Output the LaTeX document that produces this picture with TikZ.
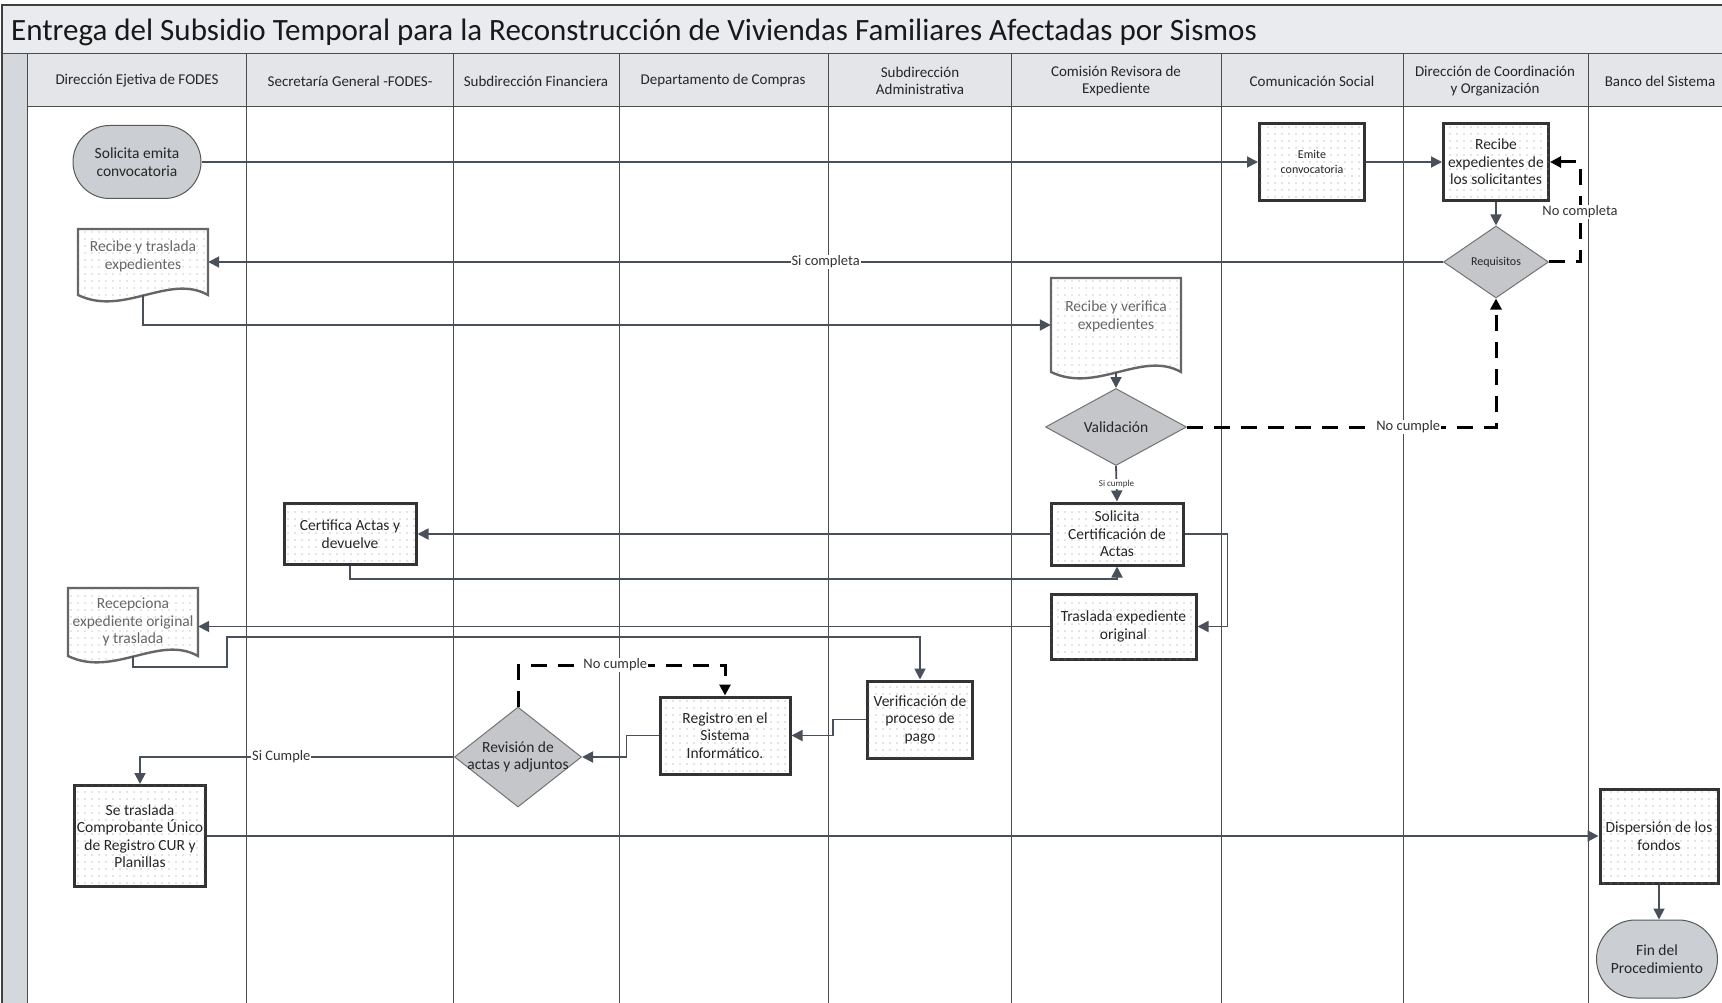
\documentclass[tikz,border=0pt]{standalone}
\usepackage{fontspec}
\setmainfont{Carlito}
\usetikzlibrary{arrows.meta,shapes.geometric,shapes.misc,patterns}
\pgfdeclarepatternformonly{sparsedots}{\pgfpoint{0pt}{0pt}}{\pgfpoint{2pt}{2pt}}{\pgfpoint{7pt}{7pt}}{\pgfpathcircle{\pgfpoint{1pt}{1pt}}{0.7pt}\pgfusepath{fill}}
\definecolor{titlebg}{HTML}{E9EBEE}
\definecolor{headbg}{HTML}{E3E5E8}
\definecolor{stripbg}{HTML}{D4D7DC}
\definecolor{conncol}{HTML}{4A505A}
\definecolor{termfill}{HTML}{CBCED2}
\definecolor{diafill}{HTML}{C4C6C9}
\newcommand\docnode[6]{%
  \path[docshape] ({#2-#4/2},{#3-#5/2}) -- ({#2+#4/2},{#3-#5/2}) -- ({#2+#4/2},{#3+#5/2})
    .. controls ({#2+#4/2-0.3*#4},{#3+#5/2-22}) and ({#2-#4/2+0.35*#4},{#3+#5/2+22}) .. ({#2-#4/2},{#3+#5/2}) -- cycle;
  \node[docb, minimum width=#4pt, minimum height=#5pt] (#1) at (#2,#3) {#6};
}
\begin{document}
\begin{tikzpicture}[x=1pt,y=-1pt,
  lane/.style={draw=black!70, line width=0.9pt},
  frame/.style={draw=black!75, line width=1.6pt},
  head/.style={font=\fontsize{15}{17.5}\selectfont, align=center, text=black!85},
  txt/.style={font=\fontsize{15.5}{17.5}\selectfont, align=center},
  proc/.style={txt, rectangle, draw=black!80, line width=3pt, fill=white,
    postaction={pattern=sparsedots, pattern color=black!45}, text=black!85, inner sep=1pt},
  docb/.style={txt, rectangle, inner sep=1pt, text=black!60},
  docshape/.style={draw=black!60, line width=2.4pt, fill=white,
    postaction={pattern=sparsedots, pattern color=black!40}},
  term/.style={txt, rounded rectangle, draw=black!65, line width=1pt, fill=termfill, text=black!85, inner sep=1pt},
  dia/.style={diamond, draw=black!55, line width=1pt, fill=diafill, inner sep=0pt},
  cn/.style={draw=conncol, line width=1.8pt, -{Triangle[length=11pt,width=11pt]}},
  dcn/.style={draw=black, line width=3pt, dash pattern=on 16pt off 11pt, -{Triangle[length=11pt,width=11pt]}},
  lbl/.style={fill=white, inner sep=1pt, font=\fontsize{14.5}{16}\selectfont, text=black!80},
  slbl/.style={fill=white, inner sep=1pt, font=\fontsize{9}{10}\selectfont, text=black!80}]
\useasboundingbox (0,0) rectangle (1722,1003);
% background and lanes
\fill[white] (0,0) rectangle (1722,1003);
\fill[titlebg] (2,5) rectangle (1722,53);
\fill[headbg] (27.5,53) rectangle (1722,106.5);
\fill[stripbg] (2,53) rectangle (27.5,1003);
\draw[frame] (1722,5) -- (2,5) -- (2,1003);
\draw[lane] (2,53) -- (1722,53);
\draw[lane] (27.5,106.5) -- (1722,106.5);
\foreach \x in {27.5,246,453.5,619,828,1011,1221,1403,1588}
  \draw[lane] (\x,53) -- (\x,1003);
% title
\node[anchor=west, font=\fontsize{31}{34}\selectfont, text=black!90, inner sep=0pt] (title) at (11,32)
  {Entrega del Subsidio Temporal para la Reconstrucción de Viviendas Familiares Afectadas por Sismos};
% headers
\node[head] (h1) at (137,81) {Dirección Ejetiva de FODES};
\node[head] (h2) at (350,81) {Secretaría General -FODES-};
\node[head] (h3) at (536,81) {Subdirección Financiera};
\node[head] (h4) at (723,81) {Departamento de Compras};
\node[head] (h5) at (920,81) {Subdirección\\Administrativa};
\node[head] (h6) at (1116,81) {Comisión Revisora de\\Expediente};
\node[head] (h7) at (1312,81) {Comunicación Social};
\node[head] (h8) at (1495,81) {Dirección de Coordinación\\y Organización};
\node[head] (h9) at (1660,81) {Banco del Sistema};
% nodes
\node[term, minimum width=130pt, minimum height=73pt] (A) at (137,162) {Solicita emita\\convocatoria};
\node[proc, minimum width=105pt, minimum height=77pt, font=\fontsize{12}{15.5}\selectfont] (B) at (1312,162) {Emite\\convocatoria};
\node[proc, minimum width=105pt, minimum height=77pt] (C) at (1496,162) {Recibe\\expedientes de\\los solicitantes};
\node[dia, minimum width=105pt, minimum height=72pt, label={[font=\fontsize{12}{14}\selectfont, text=black!85]center:Requisitos}] (D) at (1496,262) {};
\docnode{E}{143}{262}{130}{66}{Recibe y traslada\\expedientes\\[-4pt]\mbox{}}
\docnode{F}{1116}{325}{130}{94}{Recibe y verifica\\expedientes\\[2pt]\mbox{}}
\node[dia, minimum width=141pt, minimum height=77pt, label={[txt, text=black!85]center:Validación}] (G) at (1116,427) {};
\node[proc, minimum width=132pt, minimum height=62pt] (H) at (1117,534) {Solicita\\Certificación de\\Actas};
\node[proc, minimum width=132pt, minimum height=61pt] (I) at (350,534) {Certifica Actas y\\devuelve};
\node[proc, minimum width=145pt, minimum height=65pt] (J) at (1123.5,626.5) {Traslada expediente\\original};
\docnode{K}{133}{622}{130}{68}{Recepciona\\expediente original\\y traslada}
\node[proc, minimum width=105pt, minimum height=77pt] (L) at (920,719.5) {Verificación de\\proceso de\\pago};
\node[proc, minimum width=130pt, minimum height=77pt] (M) at (725,735.5) {Registro en el\\Sistema\\Informático.};
\node[dia, minimum width=127pt, minimum height=100pt, label={[txt, text=black!85]center:Revisión de\\actas y adjuntos}] (N) at (518,757) {};
\node[proc, minimum width=131pt, minimum height=101pt] (O) at (140,836) {Se traslada\\Comprobante Único\\de Registro CUR y\\Planillas};
\node[proc, minimum width=118pt, minimum height=94pt] (P) at (1659,836) {Dispersión de los\\fondos};
\node[term, minimum width=123pt, minimum height=78pt] (Q) at (1657,959) {Fin del\\Procedimiento};
% connectors
\draw[cn] (A.east) -- (B.west);
\draw[cn] (B.east) -- (C.west);
\draw[cn] (C.south) -- (D.north);
\draw[cn] (D.west) -- node[lbl]{Si completa} (E.east);
\draw[dcn] (D.east) -- ++(31,0) |- node[lbl,pos=0.25]{No completa} (C.east);
\draw[cn] (E.south) |- (F.west);
\draw[cn] (F.south) -- (G.north);
\draw[dcn] (G.east) -| node[lbl,pos=0.358]{No cumple} (D.south);
\draw[cn] (G.south) -- node[slbl]{Si cumple} (H.north);
\draw[cn] (H.west) -- (I.east);
\draw[cn] (I.south) -- ++(0,13) -| (H.south);
\draw[cn] (H.east) -- ++(43,0) |- (J.east);
\draw[cn] (J.west) -- (J.west -| K.east);
\draw[cn] (K.south) -- ++(0,11) -- ++(94,0) -- ++(0,-30) -| (L.north);
\draw[cn] (L.west) -- ++(-33,0) |- (M.east);
\draw[cn] (M.west) -- ++(-32,0) |- (N.east);
\draw[dcn] (N.north) -- ++(0,-41.5) -| node[lbl,pos=0.235]{No cumple} (M.north);
\draw[cn] (N.west) -| node[lbl,pos=0.275]{Si Cumple} (O.north);
\draw[cn] (O.east) -- (O.east -| P.west);
\draw[cn] (P.south) -- (P.south |- Q.north);
\end{tikzpicture}
\end{document}
